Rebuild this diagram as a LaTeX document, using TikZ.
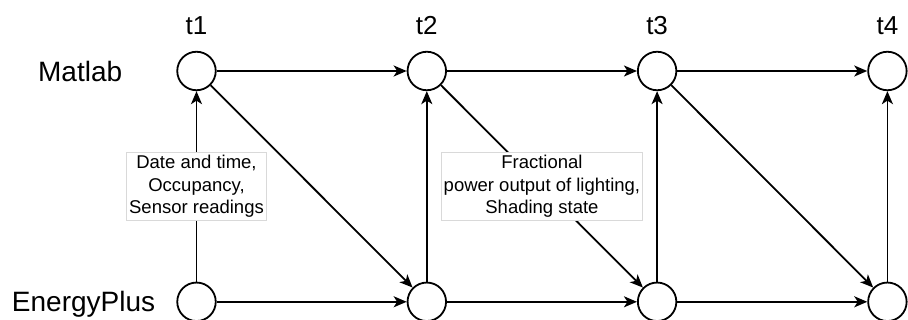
\documentclass[tikz,border=0pt]{standalone}
\usepackage{fontspec}
\setmainfont{Liberation Sans}
\usepackage{tikz}
\usetikzlibrary{arrows.meta, positioning}
\tikzset{
    simnode/.style = {circle, draw, line width=1.8pt, fill=white,
                      minimum size=38.5pt, inner sep=0pt},
    arrow/.style   = {-{Stealth[length=13pt, width=11pt, inset=3.5pt]},
                      line width=1.8pt}
}

\begin{document}
\begin{tikzpicture}[
    x=1pt, y=1pt,
    node distance = 190.5pt and 190pt,
    steplbl/.style = {inner sep=0pt, font=\fontsize{26}{30}\selectfont},
    toollbl/.style = {inner sep=0pt, font=\fontsize{28}{32}\selectfont},
    datalbl/.style = {rectangle, draw=black!15, fill=white, line width=0.6pt,
                      inner sep=2.5pt, align=center,
                      font=\fontsize{18.5}{22.6}\selectfont}
]
\useasboundingbox (0,0) rectangle (908,-320);

% --- Matlab row ---
\node[simnode] (m1) at (196.5,-71) {};
\node[simnode, right=of m1] (m2) {};
\node[simnode, right=of m2] (m3) {};
\node[simnode, right=of m3] (m4) {};

% --- EnergyPlus row ---
\node[simnode, below=of m1] (e1) {};
\node[simnode, right=of e1] (e2) {};
\node[simnode, right=of e2] (e3) {};
\node[simnode, right=of e3] (e4) {};

% --- Time steps and tool names ---
\foreach \i in {1,...,4}
   \node[steplbl, above=16pt of m\i] (t\i) {t\i};
\node[toollbl, left=54pt of m1] (matlab) {Matlab};
\node[toollbl, left=21pt of e1, yshift=-2pt] (eplus) {EnergyPlus};

% --- Plain exchanges ---
\foreach \src/\dst in
   {m1/m2, m2/m3, m3/m4, e1/e2, e2/e3, e3/e4,
    e2/m2, e3/m3, e4/m4, m1/e2, m3/e4}
   \draw[arrow] (\src) -- (\dst);

% --- Labelled exchanges ---
\draw[arrow] (e1) -- node[datalbl] (toml)
   {Date and time,\\Occupancy,\\Sensor readings} (m1);
\draw[arrow] (m2) -- node[datalbl] (toep)
   {Fractional\\power output of lighting,\\Shading state} (e3);

\end{tikzpicture}
\end{document}
